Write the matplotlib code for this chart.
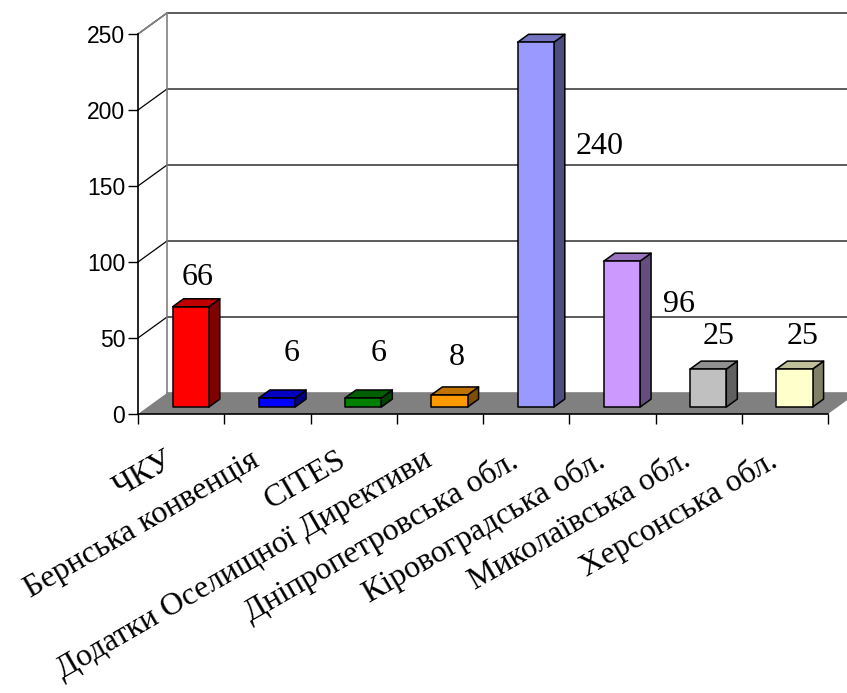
import matplotlib
matplotlib.use("Agg")
import matplotlib.pyplot as plt
from matplotlib.patches import Polygon

categories = [
    "ЧКУ",
    "Бернська конвенція",
    "CITES",
    "Додатки Оселищної Директиви",
    "Дніпропетровська обл.",
    "Кіровоградська обл.",
    "Миколаївська обл.",
    "Херсонська обл.",
]
values = [66, 6, 6, 8, 240, 96, 25, 25]

face_colors = ["#FF0000", "#0000FF", "#008000", "#FF9900",
               "#9999FF", "#CC99FF", "#C0C0C0", "#FFFFCC"]
side_colors = ["#800000", "#000080", "#004000", "#804D00",
               "#4D4D80", "#664D80", "#606060", "#808066"]
top_colors = ["#C00000", "#0000C0", "#006000", "#C07300",
              "#7373BF", "#9973BF", "#909090", "#BFBF99"]

# where the value labels sit (offset from category centre, height in value units)
label_dx = [0.19, 0.28, 0.29, 0.20, 0.85, 0.77, 0.23, 0.21]
label_y = [90, 40, 40, 37, 176, 72, 51, 51]

# depth of the 3d box, in data units
DX, DY = 0.336, 13.8
D1, D2 = 0.33, 0.71
BAR_W = 0.42
YMAX = 250

fig = plt.figure(figsize=(8.47, 6.93), dpi=100)
ax = fig.add_axes([138 / 847, 1 - 414 / 693, 690 / 847, 380 / 693])
ax.set_xlim(0, len(categories))
ax.set_ylim(0, YMAX)
for s in ["top", "right"]:
    ax.spines[s].set_visible(False)
ax.spines["left"].set_linewidth(1.2)
ax.spines["bottom"].set_linewidth(1.2)
ax.patch.set_visible(False)

n = len(categories)
# floor
ax.add_patch(Polygon([(0, 0), (n, 0), (n + DX, DY), (DX, DY)],
                     closed=True, facecolor="#808080", edgecolor="none",
                     clip_on=False, zorder=1))
# back wall grid + side wall lines
for v in range(0, YMAX + 1, 50):
    ax.plot([DX, n + DX + 0.2], [v + DY, v + DY],
            color="#404040" if v > 0 else "#808080", lw=1.2,
            clip_on=False, zorder=0.5)
    if v > 0:
        ax.plot([0, DX], [v, v + DY], color="black", lw=0.9,
                clip_on=False, zorder=0.5)
ax.plot([DX, DX], [DY, YMAX + DY], color="#808080", lw=1.2,
        clip_on=False, zorder=0.6)
ax.plot([0, DX], [YMAX, YMAX + DY], color="#808080", lw=1.2,
        clip_on=False, zorder=0.6)

# bars
for i, v in enumerate(values):
    c = i + 0.5
    x0 = c - BAR_W / 2 + DX * D1
    x1 = c + BAR_W / 2 + DX * D1
    y0 = DY * D1
    y1 = v + DY * D1
    ddx = DX * (D2 - D1)
    ddy = DY * (D2 - D1)
    side = [(x1, y0), (x1 + ddx, y0 + ddy), (x1 + ddx, y1 + ddy), (x1, y1)]
    top = [(x0, y1), (x1, y1), (x1 + ddx, y1 + ddy), (x0 + ddx, y1 + ddy)]
    front = [(x0, y0), (x1, y0), (x1, y1), (x0, y1)]
    for pts, col in [(side, side_colors[i]), (top, top_colors[i]),
                     (front, face_colors[i])]:
        ax.add_patch(Polygon(pts, closed=True, facecolor=col,
                             edgecolor="black", lw=1.1, joinstyle="round",
                             clip_on=False, zorder=3))
    ax.text(c + label_dx[i], label_y[i], str(v), ha="center", va="center",
            fontsize=23, family="Liberation Serif", zorder=4)

ax.set_yticks(range(0, YMAX + 1, 50))
ax.tick_params(axis="y", length=7.2, width=1, pad=2, labelsize=16.5)
for lab in ax.get_yticklabels():
    lab.set_family("Liberation Sans")
ax.set_xticks(range(n + 1))
ax.set_xticklabels([])
ax.tick_params(axis="x", length=7.2, width=1)

for i, name in enumerate(categories):
    ax.text(i + 0.5 - 0.2, -21, name, rotation=30, ha="right", va="top",
            rotation_mode="anchor", fontsize=23, family="Liberation Serif")

fig.savefig("out.png", dpi=100)
